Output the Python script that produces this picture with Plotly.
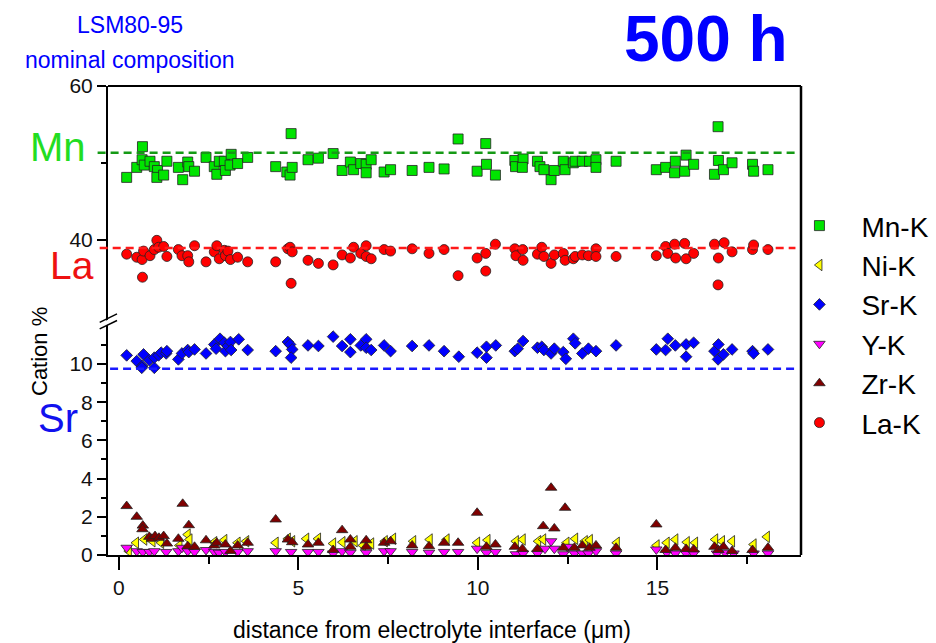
import plotly.graph_objects as go

# Cation fractions (%) vs. distance from the electrolyte interface (um), 500 h sample
MN_K = [(0.22, 48.1), (0.50, 49.4), (0.66, 52.1), (0.65, 50.4), (0.71, 49.7), (0.87, 50.2),
        (0.99, 49.5), (1.08, 49.0), (1.06, 48.1), (1.25, 48.4), (1.34, 50.2), (1.66, 49.4),
        (1.78, 47.8), (1.92, 50.1), (1.95, 49.5), (2.11, 48.9), (2.43, 50.7), (2.66, 49.5),
        (2.73, 48.5), (2.80, 50.2), (2.94, 50.2), (2.97, 49.0), (3.10, 49.7), (3.13, 51.1),
        (3.31, 49.9), (3.59, 50.7), (4.37, 49.5), (4.68, 48.8), (4.77, 48.4), (4.83, 49.4),
        (4.80, 53.8), (5.27, 50.4), (5.56, 50.6), (5.97, 51.2), (6.22, 49.0), (6.45, 50.1),
        (6.54, 49.1), (6.74, 49.9), (6.89, 49.8), (6.89, 48.7), (7.03, 50.4), (7.39, 48.8),
        (7.57, 49.1), (8.17, 49.0), (8.64, 49.4), (9.06, 49.2), (9.45, 53.1), (9.98, 48.9),
        (10.22, 52.5), (10.24, 49.8), (10.49, 48.4), (11.03, 50.3), (11.05, 49.5), (11.26, 50.5),
        (11.24, 49.4), (11.66, 50.2), (11.73, 49.5), (11.84, 49.1), (12.04, 47.8), (12.13, 49.0),
        (12.38, 50.2), (12.43, 49.1), (12.66, 50.0), (12.71, 50.2), (12.91, 50.2), (13.11, 50.2),
        (13.29, 50.4), (13.29, 49.4), (13.85, 50.2), (14.97, 49.1), (15.23, 49.4), (15.50, 50.2),
        (15.48, 48.7), (15.76, 48.9), (15.80, 51.0), (16.01, 49.8), (16.59, 48.5), (16.69, 54.7),
        (16.70, 50.3), (16.84, 49.1), (17.08, 50.0), (17.65, 49.8), (17.68, 48.9), (18.08, 49.1)]

NI_K = [(0.28, 0.20), (0.48, 0.64), (0.71, 0.81), (0.94, 0.72), (1.18, 0.64), (1.69, 0.50),
        (1.92, 1.07), (1.97, 0.81), (2.66, 0.67), (2.94, 0.78), (3.31, 0.64), (3.55, 0.72),
        (4.37, 0.64), (4.71, 0.85), (4.83, 0.72), (5.22, 0.85), (5.55, 0.85), (5.97, 0.60),
        (6.23, 0.67), (6.57, 0.72), (6.80, 0.50), (7.03, 0.60), (7.41, 0.72), (7.64, 0.85),
        (8.20, 0.72), (8.66, 0.81), (9.13, 0.81), (9.98, 0.64), (10.27, 0.78), (11.06, 0.72),
        (11.25, 0.81), (11.68, 0.72), (11.82, 0.81), (12.47, 0.64), (12.71, 0.85), (12.98, 0.72),
        (13.12, 0.78), (13.87, 0.64), (14.98, 0.50), (15.26, 0.64), (15.50, 0.81), (15.82, 0.67),
        (16.05, 0.64), (16.61, 0.81), (16.80, 0.72), (17.08, 0.72), (17.68, 0.55), (18.05, 0.95)]

SR_K = [(0.22, 10.45), (0.50, 10.15), (0.65, 9.89), (0.69, 10.50), (0.64, 9.80), (0.85, 10.20),
        (0.99, 9.80), (0.99, 10.33), (1.11, 10.45), (1.18, 10.59), (1.32, 10.55), (1.34, 10.67),
        (1.66, 10.24), (1.76, 10.55), (1.92, 10.73), (1.95, 10.62), (2.11, 10.76), (2.43, 10.55),
        (2.66, 11.02), (2.71, 10.80), (2.82, 11.32), (2.94, 11.11), (2.97, 10.67), (3.04, 10.94),
        (3.11, 11.15), (3.13, 10.73), (3.34, 11.29), (3.59, 10.73), (4.37, 10.67), (4.71, 11.15),
        (4.77, 11.02), (4.83, 10.76), (4.80, 10.33), (5.27, 10.97), (5.56, 10.94), (5.97, 11.43),
        (6.22, 10.94), (6.45, 11.29), (6.45, 10.62), (6.74, 10.97), (6.89, 11.29), (6.89, 10.85),
        (7.03, 10.73), (7.39, 10.97), (7.57, 10.67), (8.17, 10.94), (8.64, 10.97), (9.06, 10.67),
        (9.47, 10.38), (9.98, 10.59), (10.24, 10.33), (10.24, 10.90), (10.50, 10.97), (11.03, 10.67),
        (11.11, 10.80), (11.26, 11.20), (11.66, 10.85), (11.78, 10.90), (11.84, 10.73), (12.04, 10.55),
        (12.13, 10.80), (12.38, 10.62), (12.45, 10.27), (12.66, 11.32), (12.71, 11.08), (12.91, 10.55),
        (13.08, 10.80), (13.29, 10.67), (13.85, 10.97), (14.97, 10.76), (15.23, 10.73), (15.29, 11.32),
        (15.50, 10.97), (15.80, 11.02), (15.80, 10.38), (16.01, 11.11), (16.59, 10.67), (16.70, 11.02),
        (16.69, 10.24), (16.84, 10.50), (17.08, 10.76), (17.65, 10.67), (17.68, 10.55), (18.08, 10.76)]

Y_K = [(0.22, 0.38), (0.50, 0.20), (0.67, 0.16), (0.85, 0.16), (0.99, 0.20), (1.32, 0.16),
       (1.66, 0.20), (1.76, 0.38), (1.92, 0.20), (2.11, 0.16), (2.43, 0.26), (2.66, 0.16),
       (2.79, 0.12), (2.97, 0.16), (3.31, 0.16), (3.59, 0.20), (4.37, 0.20), (4.80, 0.16),
       (5.27, 0.16), (5.56, 0.16), (5.97, 0.08), (6.22, 0.20), (6.45, 0.12), (6.89, 0.12),
       (7.39, 0.20), (7.57, 0.20), (8.17, 0.16), (8.64, 0.12), (9.06, 0.16), (9.45, 0.16),
       (9.98, 0.33), (10.24, 0.12), (10.49, 0.16), (11.06, 0.04), (11.26, 0.08), (11.66, 0.08),
       (11.87, 0.33), (12.04, 0.72), (12.13, 0.33), (12.38, 0.04), (12.49, 0.43), (12.69, 0.08),
       (12.91, 0.08), (13.08, 0.08), (13.29, 0.20), (13.85, 0.08), (14.97, 0.29), (15.26, 0.12),
       (15.50, 0.08), (15.80, 0.08), (16.01, 0.08), (16.66, 0.08), (16.89, 0.12), (17.12, 0.08),
       (17.68, 0.08), (18.08, 0.08)]

ZR_K = [(0.22, 2.56), (0.50, 2.00), (0.67, 1.54), (0.66, 1.35), (0.85, 0.95), (0.92, 0.85),
        (1.01, 0.99), (1.12, 0.90), (1.25, 0.99), (1.34, 0.60), (1.66, 0.85), (1.78, 2.68),
        (1.95, 1.56), (1.92, 0.46), (2.11, 0.43), (2.43, 0.77), (2.66, 0.50), (2.73, 0.64),
        (2.97, 0.55), (3.11, 0.21), (3.31, 0.50), (3.59, 0.64), (4.37, 1.86), (4.71, 0.81),
        (4.83, 0.67), (5.27, 0.55), (5.56, 0.64), (5.97, 0.26), (6.22, 1.30), (6.45, 0.43),
        (6.45, 0.81), (6.89, 0.77), (6.89, 0.43), (7.39, 0.64), (7.57, 0.72), (8.17, 0.50),
        (8.64, 0.46), (9.06, 0.64), (9.45, 0.64), (9.98, 2.21), (10.24, 0.43), (10.49, 0.55),
        (11.03, 0.43), (11.24, 0.32), (11.66, 0.32), (11.82, 1.51), (12.04, 3.52), (12.13, 1.39),
        (12.43, 2.47), (12.38, 0.38), (12.69, 0.38), (12.91, 0.50), (13.11, 0.38), (13.29, 0.50),
        (13.85, 0.38), (14.97, 1.60), (15.23, 0.26), (15.50, 0.38), (15.80, 0.32), (16.01, 0.29),
        (16.59, 0.43), (16.70, 0.26), (16.84, 0.43), (17.08, 0.21), (17.65, 0.26), (18.08, 0.38)]

LA_K = [(0.22, 38.1), (0.50, 37.7), (0.65, 37.4), (0.69, 38.5), (0.66, 35.1), (0.87, 37.9),
        (0.99, 38.7), (1.06, 39.9), (1.11, 39.0), (1.25, 39.1), (1.34, 37.8), (1.66, 38.7),
        (1.76, 37.9), (1.92, 37.9), (1.95, 37.1), (2.11, 39.2), (2.43, 37.1), (2.66, 38.4),
        (2.73, 39.2), (2.80, 37.5), (2.94, 38.6), (2.97, 37.9), (3.04, 38.5), (3.11, 37.4),
        (3.31, 37.7), (3.59, 37.1), (4.37, 37.1), (4.71, 38.8), (4.77, 39.0), (4.83, 38.4),
        (4.80, 34.3), (5.27, 37.3), (5.56, 36.9), (5.97, 36.7), (6.22, 38.0), (6.45, 37.6),
        (6.54, 39.0), (6.74, 38.2), (6.89, 39.2), (6.89, 37.8), (7.03, 37.5), (7.39, 38.7),
        (7.57, 38.5), (8.17, 38.8), (8.64, 38.2), (9.06, 38.7), (9.45, 35.3), (9.98, 37.6),
        (10.22, 38.2), (10.22, 35.9), (10.49, 39.4), (11.03, 38.8), (11.06, 37.9), (11.25, 38.7),
        (11.26, 37.3), (11.66, 38.1), (11.78, 39.0), (11.84, 37.8), (12.04, 36.9), (12.13, 38.0),
        (12.38, 38.2), (12.43, 37.3), (12.66, 37.5), (12.71, 37.8), (12.91, 38.0), (13.08, 37.9),
        (13.29, 38.8), (13.29, 37.8), (13.85, 37.8), (14.97, 37.9), (15.23, 39.1), (15.29, 38.2),
        (15.48, 39.4), (15.51, 37.6), (15.76, 39.5), (15.80, 37.5), (16.01, 38.2), (16.59, 39.4),
        (16.70, 37.6), (16.69, 34.1), (16.86, 39.6), (17.08, 38.4), (17.65, 38.7), (17.68, 39.3),
        (18.08, 38.7)]

# Nominal LSM80-95 composition (cation %)
NOMINAL = {"Mn": 51.3, "La": 38.9, "Sr": 9.75}

X_TICKS = [0, 5, 10, 15]
Y_LOW_TICKS = [0, 2, 4, 6, 8, 10]
Y_HIGH_TICKS = [40, 60]

FONT = "Liberation Sans, Arial, sans-serif"
EDGE = "#222222"

# name, points, symbol, fill colour, size, axis
SERIES = [
    ("Mn-K", MN_K, "square", "#00e400", 10, "y2"),
    ("Ni-K", NI_K, "triangle-left", "#ffff00", 10, "y"),
    ("Sr-K", SR_K, "diamond", "#0000ff", 9, "y"),
    ("Y-K", Y_K, "triangle-down", "#ff00ff", 10, "y"),
    ("Zr-K", ZR_K, "triangle-up", "#800000", 10, "y"),
    ("La-K", LA_K, "circle", "#ff0000", 10, "y2"),
]

fig = go.Figure()
for name, pts, sym, col, size, ax in SERIES:
    fig.add_trace(go.Scatter(
        x=[p[0] for p in pts], y=[p[1] for p in pts], mode="markers", name=name,
        yaxis=ax,
        marker=dict(symbol=sym, color=col, size=size, line=dict(color=EDGE, width=0.8)),
    ))

BREAK = 0.499  # paper height of the axis break

axis_common = dict(showgrid=False, zeroline=False, showline=True, linecolor="black",
                   linewidth=2, ticks="outside", tickcolor="black", tickwidth=1.5,
                   tickfont=dict(family=FONT, size=21, color="#111111"))

fig.update_layout(
    width=936, height=643,
    margin=dict(l=108, r=135, t=86, b=88, autoexpand=False),
    paper_bgcolor="white", plot_bgcolor="white",
    font=dict(family=FONT, color="black"),
    xaxis=dict(range=[-0.3, 19.0], tickvals=X_TICKS, anchor="y", ticklen=13,
               minor=dict(tickvals=[2.5, 7.5, 12.5, 17.5], ticklen=7, tickwidth=1.5,
                          tickcolor="black", ticks="outside"),
               **axis_common),
    yaxis=dict(domain=[0, BREAK], range=[0, 12.25], tickvals=Y_LOW_TICKS, ticklen=9,
               minor=dict(tickvals=[1, 3, 5, 7, 9, 11], ticklen=5, tickwidth=1.5,
                          tickcolor="black", ticks="outside"),
               **axis_common),
    yaxis2=dict(domain=[BREAK, 1], range=[29.4, 60.0], tickvals=Y_HIGH_TICKS, anchor="x",
                ticklen=9,
                minor=dict(tickvals=[50], ticklen=5, tickwidth=1.5,
                           tickcolor="black", ticks="outside"),
                **axis_common),
    legend=dict(x=0.966, xanchor="left", y=0.755, yanchor="top", itemwidth=74,
                font=dict(family=FONT, size=28, color="black"),
                bgcolor="rgba(0,0,0,0)", itemsizing="trace", tracegroupgap=0),
    showlegend=True,
)

shapes = []
# frame: top and right edges
shapes.append(dict(type="line", xref="paper", yref="paper", x0=0, x1=1, y0=1, y1=1,
                   line=dict(color="black", width=2)))
shapes.append(dict(type="line", xref="paper", yref="paper", x0=1, x1=1, y0=0, y1=1,
                   line=dict(color="black", width=2.5)))

# nominal composition reference lines
for key, ref, col, x0 in [("Mn", "y2", "#159a15", -0.015), ("La", "y2", "#ff1a1a", -0.012),
                          ("Sr", "y", "#1a1aff", 0.003)]:
    shapes.append(dict(type="line", xref="paper", yref=ref, x0=x0, x1=0.992,
                       y0=NOMINAL[key], y1=NOMINAL[key],
                       line=dict(color=col, width=2.5, dash="8px,5px")))

# axis-break marker on the left axis
bx0, bx1 = -0.012, 0.013
shapes.append(dict(type="path", xref="paper", yref="paper",
                   path=f"M {bx0},{BREAK - 0.006} L {bx1},{BREAK + 0.012} "
                        f"L {bx1},{BREAK + 0.001} L {bx0},{BREAK - 0.017} Z",
                   fillcolor="white", line=dict(width=0)))
for dy in (0.001, -0.013):
    shapes.append(dict(type="line", xref="paper", yref="paper",
                       x0=bx0, x1=bx1, y0=BREAK + dy - 0.004, y1=BREAK + dy + 0.014,
                       line=dict(color="black", width=1.5)))
fig.update_layout(shapes=shapes)


def label(text, x, y, size, color, angle=0):
    return dict(text=text, x=x, y=y, xref="paper", yref="paper", showarrow=False,
                xanchor="center", yanchor="middle", textangle=angle,
                font=dict(family=FONT, size=size, color=color))


ann = [
    label("LSM80-95", 0.032, 1.130, 23, "#0000ff"),
    label("nominal composition", 0.032, 1.056, 23, "#0000ff"),
    label("<b>500 h</b>", 0.863, 1.100, 64, "#0000ff"),
    label("Mn", -0.072, 0.870, 40, "#22dd22"),
    label("La", -0.052, 0.617, 39, "#ee1111"),
    label("Sr", -0.072, 0.292, 40, "#1111ee"),
    label("Cation %", -0.098, 0.433, 22, "black", -90),
    label("distance from electrolyte interface (\u03bcm)", 0.468, -0.160, 23, "black"),
]
fig.update_layout(annotations=ann)

fig.write_html("out.html")
